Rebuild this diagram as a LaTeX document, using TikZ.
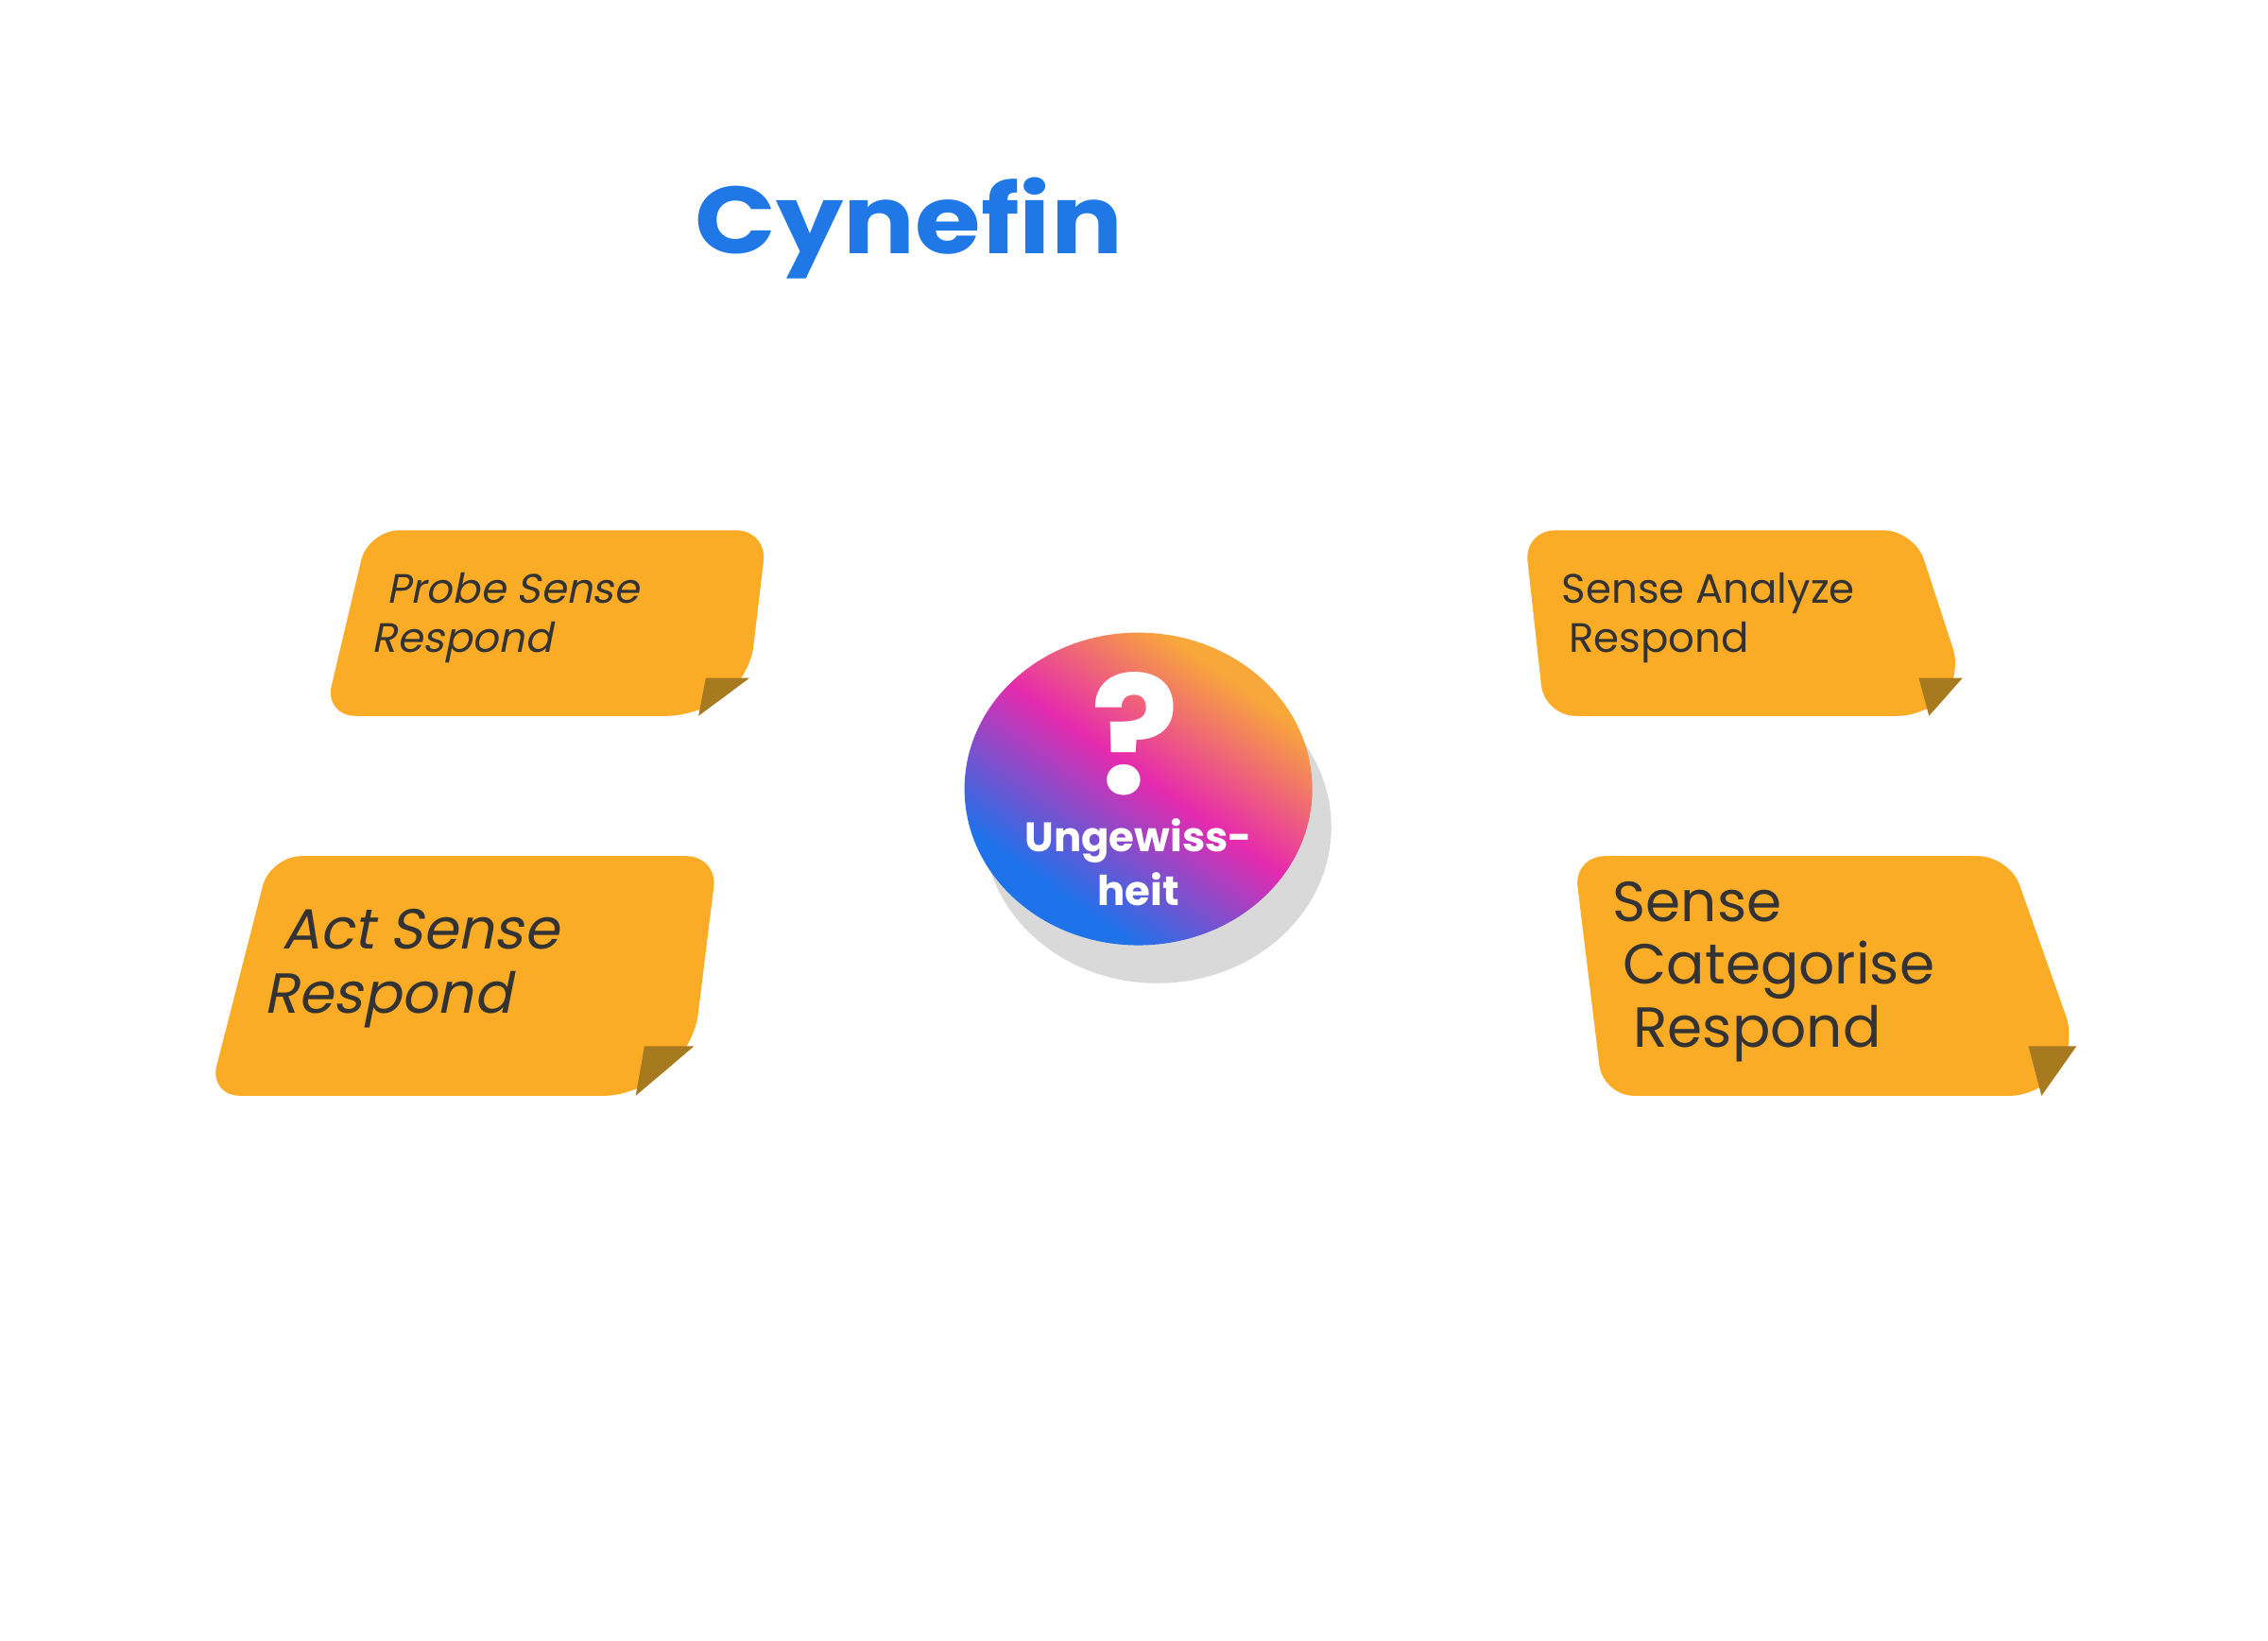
\documentclass[tikz,border=0pt]{standalone}
\usepackage{fontspec}
\setmainfont{Poppins}
\newfontfamily\slnt[FakeSlant=0.2]{Poppins}
\definecolor{gorange}{HTML}{F8A83A}
\definecolor{gmag}{HTML}{E62AAE}
\definecolor{gblue}{HTML}{1E72EA}
\pgfdeclareverticalshading{circshade}{100bp}{color(0bp)=(gblue); color(30bp)=(gblue); color(52bp)=(gmag); color(72bp)=(gorange); color(100bp)=(gorange)}
\begin{document}
\begin{tikzpicture}[x=0.01cm,y=-0.01cm,
  note/.style={fill=noteor,rounded corners=6pt},
  fold/.style={fill=foldc},
  ntext/.style={text=txt,align=left,anchor=west,inner sep=0}]
\definecolor{noteor}{HTML}{FBAC26}
\definecolor{foldc}{HTML}{A87A20}
\definecolor{txt}{HTML}{333333}
\definecolor{tblue}{HTML}{1F78E6}
\useasboundingbox[fill=white] (0,0) rectangle (1552,1123);
\node[text=tblue,font=\fontsize{18.5}{20}\selectfont\bfseries,xscale=1.12] (title) at (622,156) {Cynefin};
% top-left
\path[note] (252,363) -- (525,363) -- (513,464) -- (478,490) -- (222,490) -- cycle;
\path[fold] (478,490) -- (483,464) -- (513,464) -- cycle;
\node[ntext,font=\slnt\fontsize{8}{9.5}\selectfont] (n1) at (254,423) {\hspace*{0.1cm}Probe Sense\\Respond};
% top-right
\path[note] (1043,363) -- (1310,363) -- (1343,464) -- (1320,490) -- (1057,490) -- cycle;
\path[fold] (1313,464) -- (1320,490) -- (1343,464) -- cycle;
\node[ntext,font=\fontsize{8}{9.5}\selectfont] (n2) at (1068,423) {Sense Analyze\\\hspace*{0.05cm}Respond};
% bottom-left
\path[note] (185,586) -- (491,586) -- (475,716) -- (435,750) -- (143,750) -- cycle;
\path[fold] (435,750) -- (441,716) -- (475,716) -- cycle;
\node[ntext,font=\slnt\fontsize{11}{12.5}\selectfont] (n3) at (180,663) {\hspace*{0.12cm}Act Sense\\Respond};
% bottom-right
\path[note] (1077,586) -- (1375,586) -- (1421,716) -- (1397,750) -- (1097,750) -- cycle;
\path[fold] (1388,716) -- (1397,750) -- (1421,716) -- cycle;
\node[ntext,font=\fontsize{11}{12.2}\selectfont] (n4) at (1103,665) {Sense\\\hspace*{0.07cm}Categorise\\\hspace*{0.14cm}Respond};
% circle
\fill[gray!30] (792,566) ellipse [x radius=119, y radius=107];
\shade[shading=circshade,shading angle=-35] (779,540) ellipse [x radius=119, y radius=107];
\node[text=white,font=\fontsize{32}{34}\selectfont\bfseries] (q) at (777,502) {?};
\node[text=white,font=\fontsize{8}{10.5}\selectfont\bfseries,align=center] (u) at (779,590) {Ungewiss-\\heit};
\end{tikzpicture}
\end{document}
